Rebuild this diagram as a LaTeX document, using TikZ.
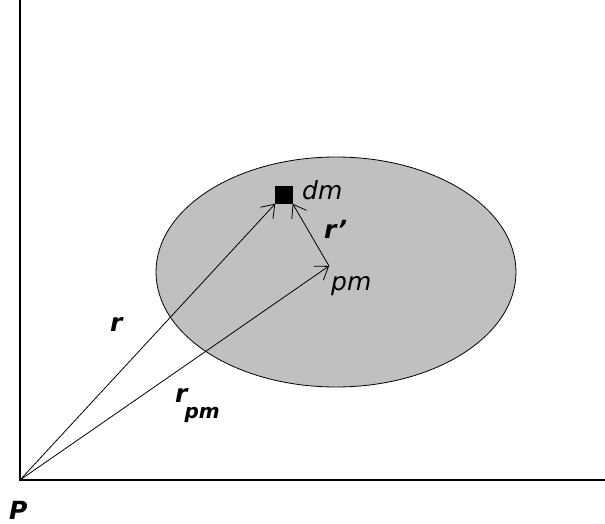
\documentclass[tikz,border=0pt]{standalone}
\usepackage{fontspec}
\setmainfont{DejaVu Sans}
\usetikzlibrary{arrows.meta,shapes.geometric}
\definecolor{blobgray}{RGB}{192,192,192}
\begin{document}
\begin{tikzpicture}[x=1pt,y=-1pt,
  axis/.style={line width=1.2pt,black},
  vec/.style={line width=0.8pt,-{Straight Barb[length=12pt,width=17pt,line width=0.8pt]}},
  lab/.style={font=\fontsize{25}{27}\selectfont\itshape, inner sep=0pt, anchor=base west},
  blab/.style={font=\fontsize{25}{27}\selectfont\bfseries\itshape, inner sep=0pt, anchor=base west}]
\useasboundingbox (0,0) rectangle (605,524);
\coordinate (top) at (20,0);
\coordinate (O) at (20,480);
\coordinate (right) at (605,480);
\draw[axis] (top) -- (O) -- (right);
\node[ellipse, draw, fill=blobgray, line width=0.8pt, minimum width=360pt, minimum height=230pt, inner sep=0pt] (body) at (336,272) {};
\node[draw, fill=black, minimum size=17pt, inner sep=0pt] (dm) at (284,195) {};
\coordinate (pm) at (329,266);
\draw[vec] (O) -- (dm.south west);
\draw[vec] (pm) -- (dm.south east);
\draw[vec] (O) -- (pm);
\node[lab] (dmlab) at (302,199) {dm};
\node[blab] (rp) at (324,238) {r’};
\node[lab] (pmlab) at (331,290) {pm};
\node[blab] (rlab) at (110,331) {r};
\node[blab] (rpmlab) at (175,402) {r\kern-3pt\raisebox{-16pt}{\fontsize{20}{22}\selectfont pm}};
\node[blab] (Plab) at (9,519) {P};
\end{tikzpicture}
\end{document}
